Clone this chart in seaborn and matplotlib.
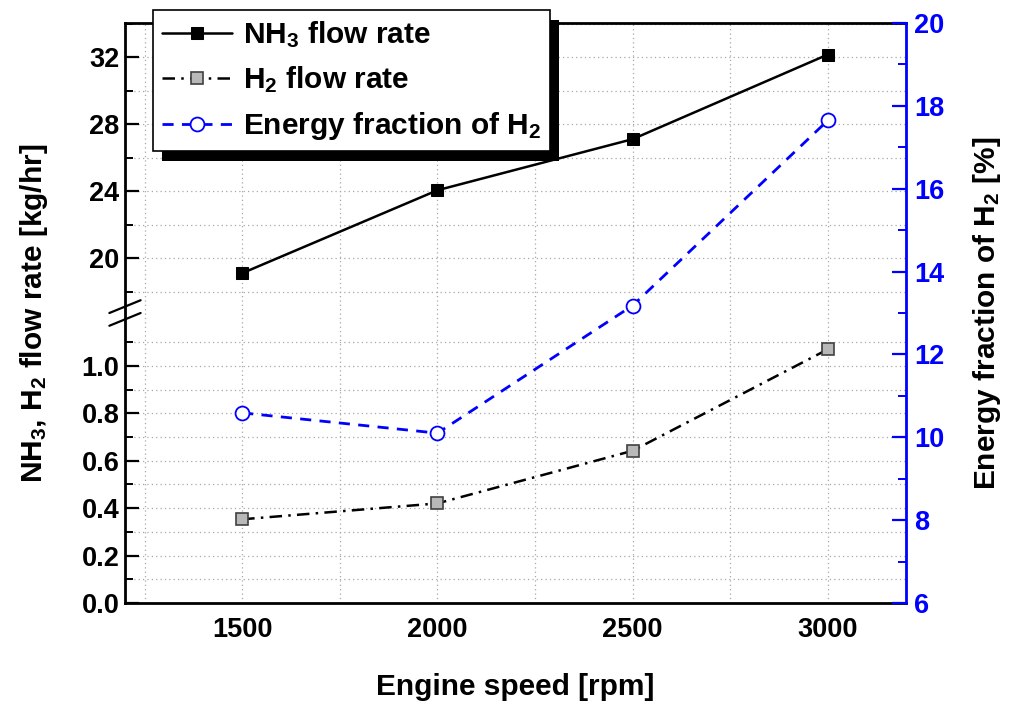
import numpy as np
import matplotlib
matplotlib.use("Agg")
import matplotlib.pyplot as plt
from matplotlib.patches import Rectangle
from matplotlib.ticker import FixedLocator
import seaborn as sns

# ---------------- data ----------------
rpm = [1500, 2000, 2500, 3000]
nh3_flow = [19.1, 24.05, 27.1, 32.15]     # kg/hr
h2_flow = [0.353, 0.42, 0.642, 1.07]      # kg/hr
h2_energy_frac = [10.59, 10.1, 13.18, 17.65]  # %

x_ticks = [1500, 2000, 2500, 3000]
x_minor = [1250, 1750, 2250, 2750]
left_major = [0.0, 0.2, 0.4, 0.6, 0.8, 1.0, 20, 24, 28, 32]
left_minor = [0.1, 0.3, 0.5, 0.7, 0.9, 1.1, 18, 22, 26, 30, 34]
left_labels = ["0.0", "0.2", "0.4", "0.6", "0.8", "1.0", "20", "24", "28", "32"]
right_ticks = [6, 8, 10, 12, 14, 16, 18, 20]
right_minor = [7, 9, 11, 13, 15, 17, 19]

# ---------------- style ----------------
sns.set_theme(style="white")
plt.rcParams["font.family"] = ["Liberation Sans", "DejaVu Sans"]
plt.rcParams["font.weight"] = "bold"
plt.rcParams["mathtext.fontset"] = "custom"
plt.rcParams["mathtext.rm"] = "Liberation Sans:bold"
plt.rcParams["mathtext.it"] = "Liberation Sans:bold"
plt.rcParams["mathtext.bf"] = "Liberation Sans:bold"
for k in ("text.color", "axes.labelcolor", "xtick.color", "ytick.color"):
    plt.rcParams[k] = "black"

BLUE = "#0000ff"
fig = plt.figure(figsize=(10.11, 7.02), dpi=100)
L, R, B, T = 125 / 1011, 906 / 1011, 99 / 702, 679 / 702
ax = fig.add_axes([L, B, R - L, T - B])

# broken axis: lower segment 0..1.2, upper segment 16.4..34
LOW_TOP, UP_BOT = 1.2, 16.4
K = 16.75 / 237.0


def fwd(v):
    v = np.asarray(v, dtype=float)
    return np.where(v <= LOW_TOP, v,
                    np.where(v >= UP_BOT, LOW_TOP + (v - UP_BOT) * K, LOW_TOP))


def inv(s):
    s = np.asarray(s, dtype=float)
    return np.where(s <= LOW_TOP, s, UP_BOT + (s - LOW_TOP) / K)


ax.set_yscale("function", functions=(fwd, inv))
ax.set_ylim(0, 34.03)
ax.set_xlim(1200, 3200)

sns.lineplot(x=rpm, y=nh3_flow, ax=ax, color="black", lw=1.8, marker="s",
             markersize=9, markerfacecolor="black", markeredgecolor="black",
             label="NH$_3$ flow rate", legend=False, zorder=3)
sns.lineplot(x=rpm, y=h2_flow, ax=ax, color="black", lw=1.8,
             linestyle=(0, (5, 2.5, 1, 2.5)), marker="s", markersize=8,
             markerfacecolor="#b8b8b8", markeredgecolor="#404040",
             markeredgewidth=1.2, label="H$_2$ flow rate", legend=False, zorder=3)

ax2 = ax.twinx()
ax2.set_position(ax.get_position())
sns.lineplot(x=rpm, y=h2_energy_frac, ax=ax2, color=BLUE, lw=2.0,
             linestyle=(0, (4, 3)), marker="o", markersize=10,
             markerfacecolor="white", markeredgecolor=BLUE,
             markeredgewidth=1.3, label="Energy fraction of H$_2$",
             legend=False, zorder=3)
ax2.set_ylim(6, 20)

# ticks
ax.xaxis.set_major_locator(FixedLocator(x_ticks))
ax.xaxis.set_minor_locator(FixedLocator(x_minor))
ax.yaxis.set_major_locator(FixedLocator(left_major))
ax.yaxis.set_minor_locator(FixedLocator(left_minor))
ax.set_yticklabels(left_labels)
ax.set_xticklabels([str(v) for v in x_ticks])
ax2.yaxis.set_major_locator(FixedLocator(right_ticks))
ax2.yaxis.set_minor_locator(FixedLocator(right_minor))
ax2.set_yticklabels([str(v) for v in right_ticks])

for a in (ax, ax2):
    for lab in a.get_xticklabels() + a.get_yticklabels():
        lab.set_fontweight("bold")

ax.tick_params(axis="both", which="major", direction="in", length=10, width=1.6,
               labelsize=19.5, pad=4, top=False, right=False, colors="black")
ax.tick_params(axis="both", which="minor", direction="in", length=6, width=1.4,
               top=False, right=False, colors="black")
ax.tick_params(axis="x", which="major", pad=10)
ax2.tick_params(axis="y", which="major", direction="in", length=10, width=1.6,
                labelsize=19.5, pad=6, colors=BLUE)
ax2.tick_params(axis="y", which="minor", direction="in", length=6, width=1.4,
                colors=BLUE)

# grid
ax.grid(True, which="both", axis="both", color="#a8a8a8", linestyle=(0, (1, 2.5)),
        linewidth=0.9)
ax2.grid(False)

# spines
for s in ("left", "bottom", "top"):
    ax.spines[s].set_color("black")
    ax.spines[s].set_linewidth(2.0)
ax.spines["right"].set_visible(False)
for s in ("left", "top"):
    ax2.spines[s].set_visible(False)
ax2.spines["bottom"].set_visible(False)
ax2.spines["right"].set_color(BLUE)
ax2.spines["right"].set_linewidth(2.0)

# labels
ax.set_xlabel("Engine speed [rpm]", fontsize=21.5, fontweight="bold", labelpad=22,
              color="black")
ax.set_ylabel("NH$_3$, H$_2$ flow rate [kg/hr]", fontsize=21.5, fontweight="bold",
              labelpad=23, color="black")
ax2.set_ylabel("Energy fraction of H$_2$ [%]", fontsize=21.5, fontweight="bold",
               color="black", labelpad=19)

# break marks on the left spine
yb = (603 - 313) / 580.0
for dy in (-0.011, 0.011):
    ax.plot([-0.02, 0.02], [yb + dy - 0.011, yb + dy + 0.011],
            transform=ax.transAxes, color="black", lw=1.6, clip_on=False, zorder=6)

# legend
h1, l1 = ax.get_legend_handles_labels()
h2, l2 = ax2.get_legend_handles_labels()
leg = fig.legend(h1 + h2, l1 + l2, loc="upper left",
                 bbox_to_anchor=(153 / 1011, 1 - 10 / 702),
                 bbox_transform=fig.transFigure, borderaxespad=0,
                 fontsize=21.5, frameon=True, fancybox=False, framealpha=1,
                 edgecolor="black", handlelength=2.35, handletextpad=0.35,
                 labelspacing=0.5, borderpad=0.3)
leg.get_frame().set_linewidth(1.2)
for t in leg.get_texts():
    t.set_fontweight("bold")
    t.set_color("black")
leg.set_zorder(10)

fig.canvas.draw()
bb = leg.get_window_extent().transformed(fig.transFigure.inverted())
shadow = Rectangle((bb.x0 + 9 / 1011, bb.y0 - 10 / 702), bb.width, bb.height,
                   transform=fig.transFigure, facecolor="black",
                   edgecolor="none", zorder=9)
fig.add_artist(shadow)

fig.savefig("out.png", dpi=100)
